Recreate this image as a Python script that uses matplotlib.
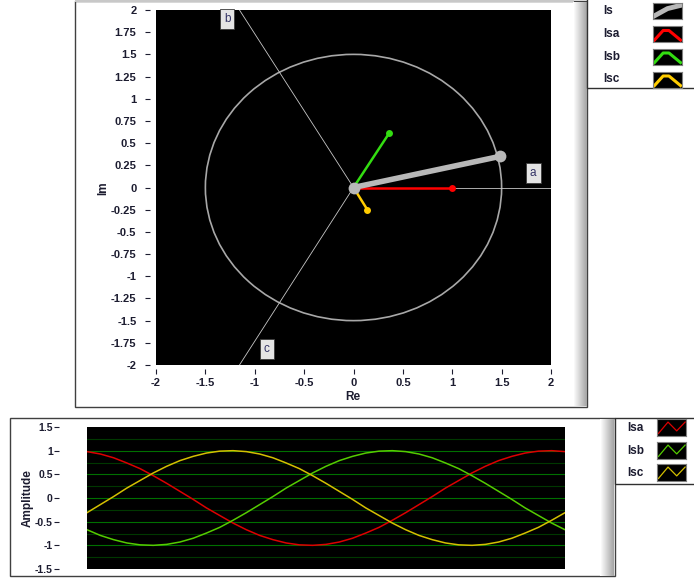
import numpy as np
import matplotlib
matplotlib.use('Agg')
import matplotlib.pyplot as plt
from matplotlib.patches import Rectangle, Circle

# ---- data ----
# phasor end points (Re, Im)
is_end = (1.48, 0.35)
isa_end = (1.0, 0.0)
isb_end = (0.36, 0.61)
isc_end = (0.14, -0.25)
circle_r = 1.5
phase_angles = [0, 120, 240]  # deg, a / b / c axes
phase_names = ['a', 'b', 'c']

re_ticks = [-2, -1.5, -1, -0.5, 0, 0.5, 1, 1.5, 2]
im_ticks = [-2, -1.75, -1.5, -1.25, -1, -0.75, -0.5, -0.25, 0,
            0.25, 0.5, 0.75, 1, 1.25, 1.5, 1.75, 2]

# waveforms, one sample per ~10 deg of the displayed window
isa = [0.98, 0.93, 0.85, 0.74, 0.62, 0.47, 0.31, 0.14, -0.03, -0.21, -0.37, -0.53,
       -0.67, -0.79, -0.88, -0.95, -0.99, -1.0, -0.98, -0.93, -0.85, -0.74, -0.62,
       -0.47, -0.31, -0.14, 0.03, 0.21, 0.37, 0.53, 0.67, 0.79, 0.88, 0.95, 0.99, 1.0, 0.98]
isb = [-0.67, -0.79, -0.88, -0.95, -0.99, -1.0, -0.98, -0.93, -0.85, -0.74, -0.62, -0.47,
       -0.31, -0.14, 0.03, 0.21, 0.37, 0.53, 0.67, 0.79, 0.88, 0.95, 0.99, 1.0,
       0.98, 0.93, 0.85, 0.74, 0.62, 0.47, 0.31, 0.14, -0.03, -0.21, -0.37, -0.53, -0.67]
isc = [-0.31, -0.14, 0.03, 0.21, 0.37, 0.53, 0.67, 0.79, 0.88, 0.95, 0.99, 1.0,
       0.98, 0.93, 0.85, 0.74, 0.62, 0.47, 0.31, 0.14, -0.03, -0.21, -0.37, -0.53,
       -0.67, -0.79, -0.88, -0.95, -0.99, -1.0, -0.98, -0.93, -0.85, -0.74, -0.62, -0.47, -0.31]
amp_ticks = [-1.5, -1, -0.5, 0, 0.5, 1, 1.5]
grid_vals = [-1.25, -1, -0.75, -0.5, -0.25, 0, 0.25, 0.5, 0.75, 1, 1.25]

# ---- styles ----
c_is, c_a, c_b, c_c = '#b8b8b8', '#ff0000', '#33dd11', '#ffcc00'
w_a, w_b, w_c = '#dd0000', '#55cc00', '#d4c000'
txt = '#1c1c30'
plt.rcParams['font.family'] = ['Liberation Sans', 'DejaVu Sans']

W, H = 694, 579
fig = plt.figure(figsize=(W / 100, H / 100), dpi=100)


def rect(l, t, r, b):
    return [l / W, 1 - b / H, (r - l) / W, (b - t) / H]


# background with the panel frames (pixel coordinates)
bg = fig.add_axes([0, 0, 1, 1])
bg.set_xlim(0, W)
bg.set_ylim(H, 0)
bg.axis('off')
bg.add_patch(Rectangle((75, 0.5), 512, 406.5, fc='white', ec='#404040', lw=1))
bg.plot([76, 573], [1.2, 1.2], color='#c8c8c8', lw=1.5)
bg.add_patch(Rectangle((10, 418), 605, 158, fc='white', ec='#404040', lw=1))
for i in range(14):
    g = 1 - 0.35 * i / 13
    bg.add_patch(Rectangle((573 + i, 2), 1, 404, fc=(g, g, g), ec='none'))
    bg.add_patch(Rectangle((600 + i, 419), 1, 157, fc=(g, g, g), ec='none'))

# ---- phasor diagram ----
ax = fig.add_axes(rect(156, 10, 551, 365))
ax.set_facecolor('black')
ax.set_xlim(-2, 2)
ax.set_ylim(-2, 2)
for s in ax.spines.values():
    s.set_visible(False)
ax.spines['left'].set_position(('outward', 4))
ax.spines['bottom'].set_position(('outward', 3))
ax.set_xticks(re_ticks)
ax.set_xticklabels(['%g' % v for v in re_ticks])
ax.set_yticks(im_ticks)
ax.set_yticklabels(['%g' % v for v in im_ticks])
ax.tick_params(axis='y', length=3.6, width=0.8, color=txt, pad=6.5,
               labelsize=8, labelcolor=txt)
ax.tick_params(axis='x', length=3.6, width=0.8, color=txt, pad=3,
               labelsize=8, labelcolor=txt)
for lab in ax.get_xticklabels() + ax.get_yticklabels():
    lab.set_fontweight('bold')

ax.add_patch(Circle((0, 0), circle_r, fill=False, ec='#a8a8a8', lw=1.2))
for ang in phase_angles:
    r = np.radians(ang)
    ax.plot([0, 4 * np.cos(r)], [0, 4 * np.sin(r)], color='#c8c8c8', lw=0.6)

lbl_pos = {'a': (1.82, 0.16), 'b': (-1.28, 1.90), 'c': (-0.88, -1.82)}
for n in phase_names:
    ax.text(*lbl_pos[n], n, ha='center', va='center', fontsize=8.5, color='#333366',
            bbox=dict(boxstyle='square,pad=0.35', fc='#e4e4e4', ec='#3a3a3a', lw=0.6))

for end, col in [(isa_end, c_a), (isb_end, c_b), (isc_end, c_c)]:
    ax.plot([0, end[0]], [0, end[1]], color=col, lw=1.8, solid_capstyle='round')
    ax.plot([end[0]], [end[1]], 'o', color=col, ms=5, mec='none')
ax.plot([0, is_end[0]], [0, is_end[1]], color=c_is, lw=4, solid_capstyle='round')
ax.plot([0, is_end[0]], [0, is_end[1]], 'o', color=c_is, ms=8.5, mec='none')

fig.text(353 / W, 1 - 397 / H, 'Re', ha='center', va='center', fontsize=8.5,
         fontweight='bold', color=txt)
fig.text(103 / W, 1 - 188 / H, 'Im', ha='center', va='center', fontsize=8.5,
         fontweight='bold', color=txt, rotation=90)

# ---- waveform chart ----
bx = fig.add_axes(rect(87, 427, 565, 569))
bx.set_facecolor('black')
n = len(isa)
bx.set_xlim(0, n - 1)
bx.set_ylim(-1.5, 1.5)
for s in bx.spines.values():
    s.set_visible(False)
bx.spines['left'].set_position(('outward', 20))
bx.set_xticks([])
bx.set_yticks(amp_ticks)
bx.set_yticklabels(['%g' % v for v in amp_ticks])
bx.tick_params(axis='y', length=3.6, width=0.8, color=txt, pad=1,
               labelsize=7.5, labelcolor=txt)
for lab in bx.get_yticklabels():
    lab.set_fontweight('bold')
for g in grid_vals:
    major = abs(g * 2 - round(g * 2)) < 1e-9
    bx.axhline(g, color='#007000' if major else '#003800', lw=0.8, zorder=1)
x = np.arange(n)
bx.plot(x, isa, color=w_a, lw=1.1, zorder=3)
bx.plot(x, isb, color=w_b, lw=1.1, zorder=3)
bx.plot(x, isc, color=w_c, lw=1.1, zorder=3)
fig.text(28 / W, 1 - 498 / H, 'Amplitude', ha='center', va='center', fontsize=8.5,
         fontweight='bold', color=txt, rotation=90)

# ---- legends ----
bg.add_patch(Rectangle((587, -2), 110, 90, fc='white', ec='#303030', lw=1, zorder=5))
bg.add_patch(Rectangle((615, 418), 82, 66, fc='white', ec='#303030', lw=1, zorder=5))

top_rows = [(11, 'Is', c_is), (34, 'Isa', c_a), (56.5, 'Isb', c_b), (79.5, 'Isc', c_c)]
for yc, name, col in top_rows:
    fig.text(603 / W, 1 - yc / H, name, ha='left', va='center', fontsize=8.5,
             fontweight='bold', color=txt, zorder=6)
    sw = fig.add_axes(rect(653, yc - 8, 682, yc + 8))
    sw.set_facecolor('black')
    sw.set_xlim(0, 1)
    sw.set_ylim(0, 1)
    sw.set_xticks([])
    sw.set_yticks([])
    for s in sw.spines.values():
        s.set_color('#808080')
    if name == 'Is':
        sw.plot([0.05, 0.5, 0.95], [0.2, 0.65, 0.85], color=col, lw=3.5,
                solid_joinstyle='round')
    else:
        sw.plot([0.05, 0.35, 0.55, 0.95], [0.12, 0.72, 0.72, 0.12], color=col, lw=2.2)

bot_rows = [(428, 'Isa', w_a), (451, 'Isb', w_b), (473, 'Isc', w_c)]
for yc, name, col in bot_rows:
    fig.text(627 / W, 1 - yc / H, name, ha='left', va='center', fontsize=8.5,
             fontweight='bold', color=txt, zorder=6)
    sw = fig.add_axes(rect(657, yc - 9, 686, yc + 8))
    sw.set_facecolor('black')
    sw.set_xlim(0, 1)
    sw.set_ylim(0, 1)
    sw.set_xticks([])
    sw.set_yticks([])
    for s in sw.spines.values():
        s.set_color('#808080')
    sw.plot([0.05, 0.38, 0.68, 0.97], [0.15, 0.82, 0.3, 0.82], color=col, lw=0.9)

fig.savefig('out.png', dpi=100)
